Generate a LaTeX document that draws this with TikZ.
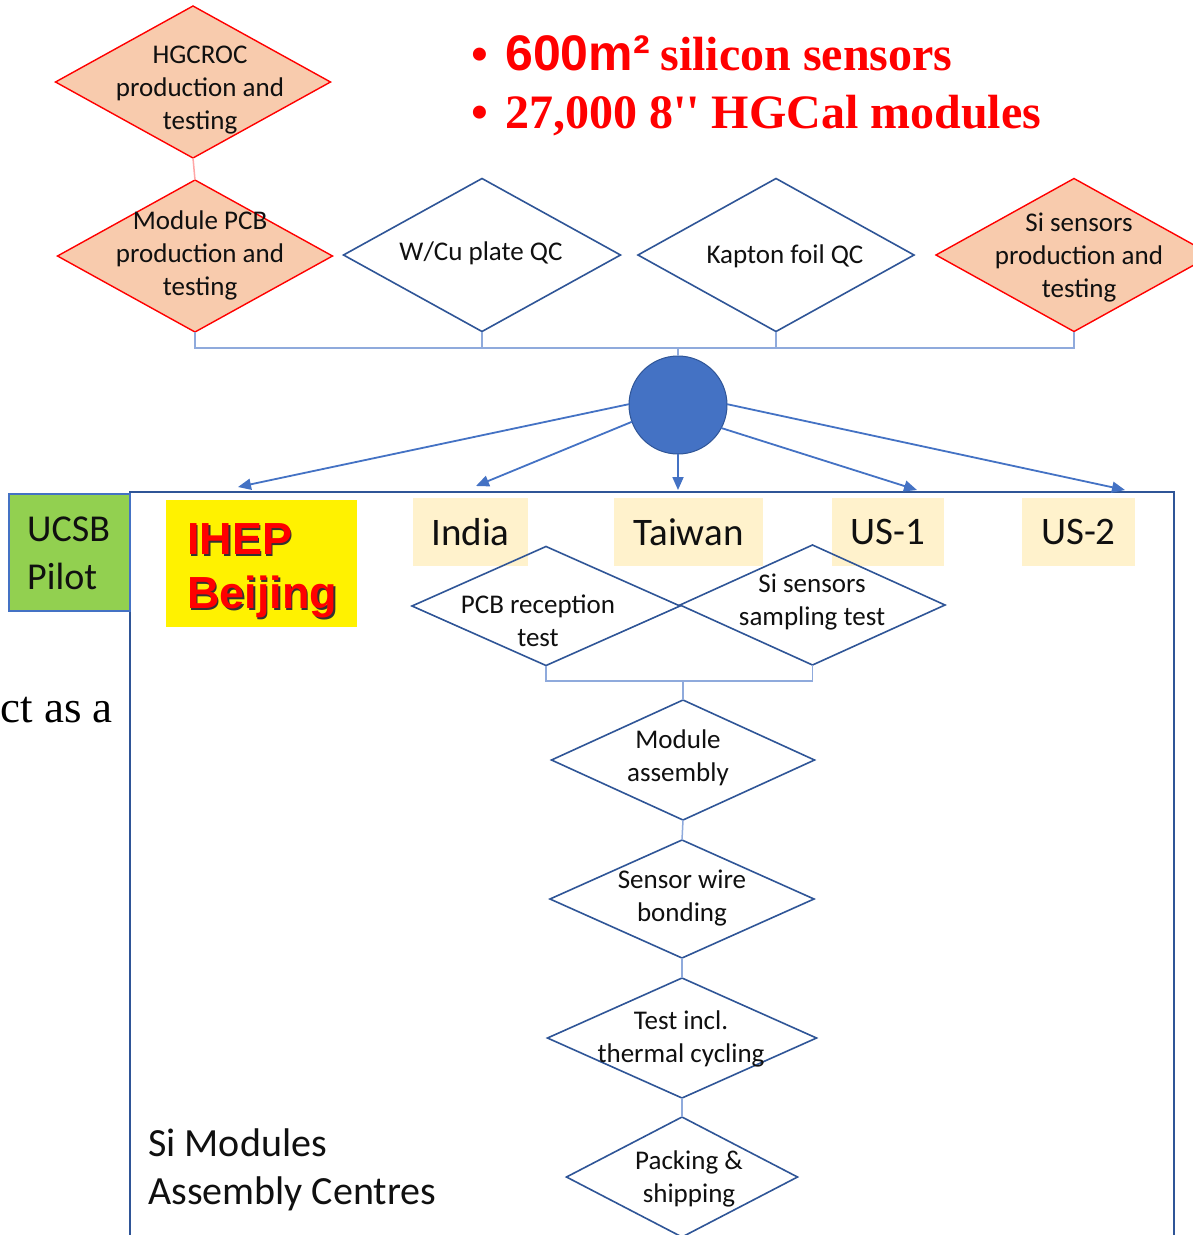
\documentclass[tikz,border=0pt]{standalone}
\usepackage{fontspec}
\setmainfont{Carlito}
\newfontfamily\arialf{Liberation Sans}
\newfontfamily\tnrf{Liberation Serif}
\usetikzlibrary{shapes.geometric,arrows.meta}
\definecolor{peach}{HTML}{F8CBAD}
\definecolor{dblue}{HTML}{2F5597}
\definecolor{mblue}{HTML}{4472C4}
\definecolor{lblue}{HTML}{8FAADC}
\definecolor{cream}{HTML}{FFF2CC}
\definecolor{lgreen}{HTML}{92D050}
\definecolor{txt}{HTML}{101010}
\tikzset{
  dia/.style={diamond, draw=dblue, line width=1.6pt, inner sep=0pt, outer sep=0pt, fill=white},
  rdia/.style={diamond, draw=red, line width=1.4pt, fill=peach, inner sep=0pt, outer sep=0pt},
  dtxt/.style={inner sep=0pt, align=center, text=txt, yshift=-2.5pt, font=\fontsize{27}{33}\selectfont},
  bus/.style={draw=lblue, line width=1.5pt},
  rbus/.style={draw=red!35, line width=1.5pt},
  arr/.style={draw=mblue, line width=1.8pt, -{Triangle[length=13pt,width=11pt]}},
  lab/.style={fill=cream, inner sep=0pt, text=txt, font=\fontsize{39}{47}\selectfont},
}
\begin{document}
\begin{tikzpicture}[x=1pt,y=-1pt]
\useasboundingbox (0,0) rectangle (1193,1235);
\clip (0,0) rectangle (1193,1235);
\fill[white] (0,0) rectangle (1193,1235);

% title
\node[anchor=base west, inner sep=0pt, text=red, font=\tnrf\bfseries\fontsize{48}{50}\selectfont] (b1) at (471,70) {•};
\node[anchor=base west, inner sep=0pt, text=red, font=\bfseries\fontsize{48}{50}\selectfont] (t1) at (505,70) {{\arialf\fontsize{50}{50}\selectfont 600m²} {\tnrf silicon sensors}};
\node[anchor=base west, inner sep=0pt, text=red, font=\tnrf\bfseries\fontsize{48}{50}\selectfont] (b2) at (471,128) {•};
\node[anchor=base west, inner sep=0pt, text=red, font=\tnrf\bfseries\fontsize{48}{50}\selectfont] (t2) at (505,128) {27,000 8'' HGCal modules};

% stray text
\node[anchor=base east, inner sep=0pt, font=\tnrf\fontsize{45}{48}\selectfont] (stray) at (113,722) {ct as a};

% top diamonds
\node[rdia, minimum width=275pt, minimum height=152pt] (hgcroc) at (193,82) {};
\node[rdia, minimum width=275pt, minimum height=152pt] (pcb) at (195,256) {};
\node[dia, minimum width=277pt, minimum height=153pt] (wcu) at (482,255) {};
\node[dia, minimum width=276pt, minimum height=153pt] (kap) at (776,255) {};
\node[rdia, minimum width=276pt, minimum height=153pt] (sis) at (1074,255) {};
\draw[rbus] (hgcroc.south) -- (pcb.north);

\node[dtxt] (thg) at (200,88) {HGCROC\\production and\\testing};
\node[dtxt] (tpcb) at (200,253) {Module PCB\\production and\\testing};
\node[dtxt] (twcu) at (481,251) {W/Cu plate QC};
\node[dtxt] (tkap) at (785,254) {Kapton foil QC};
\node[dtxt] (tsis) at (1079,255) {Si sensors\\production and\\testing};

% bus
\coordinate (busL) at (195,348);
\node[circle, fill=mblue, draw=dblue, line width=1pt, minimum size=98pt, inner sep=0pt, outer sep=0pt] (hub) at (678,405) {};
\draw[bus] (pcb.south) -- (pcb.south |- busL) -- (sis.south |- busL) -- (sis.south);
\draw[bus] (wcu.south) -- (wcu.south |- busL);
\draw[bus] (kap.south) -- (kap.south |- busL);
\draw[bus] (hub.north) -- (hub.north |- busL);

% frame
\draw[draw=dblue, line width=2.5pt] (130,492) rectangle (1174,1260);

% arrows
\coordinate (eI) at (238,487);
\coordinate (eIn) at (476,486);
\coordinate (eT) at (678,490);
\coordinate (eU1) at (917,490);
\coordinate (eU2) at (1125,490);
\draw[arr] (hub.179) -- (eI);
\draw[arr] (hub.200) -- (eIn);
\draw[arr] (hub.south) -- (eT);
\draw[arr] (hub.332) -- (eU1);
\draw[arr] (hub.1) -- (eU2);

% site boxes
\node[fill=lgreen, draw=mblue, line width=1.5pt, minimum width=121pt, minimum height=117pt, inner sep=0pt, outer sep=0pt] (ucsb) at (69.5,552.5) {};
\node[anchor=west, inner sep=0pt, align=left, text=txt, font=\fontsize{38}{48}\selectfont] (tucsb) at (27,553) {UCSB\\Pilot};
\node[fill=yellow, minimum width=191pt, minimum height=127pt, inner sep=0pt] (ihep) at (261.5,563.5) {};
\node[anchor=west, inner sep=0pt, align=left, text=black!80, font=\arialf\bfseries\fontsize{45}{54}\selectfont] (ihepsh) at (188.5,572.5) {IHEP\\Beijing};
\node[anchor=west, inner sep=0pt, align=left, text=red, font=\arialf\bfseries\fontsize{45}{54}\selectfont] (iheptx) at (187,571) {IHEP\\Beijing};
\node[lab, minimum width=115pt, minimum height=68pt] (india) at (470.5,532) {India};
\node[lab, minimum width=149pt, minimum height=68pt] (taiwan) at (688.5,532) {Taiwan};
\node[lab, minimum width=112pt, minimum height=68pt] (us1) at (888,532) {US-1};
\node[lab, minimum width=113pt, minimum height=68pt] (us2) at (1078.5,532) {US-2};

% process flow
\node[dia, fill=none, minimum width=268pt, minimum height=119pt] (pcbr) at (546,606) {};
\node[dia, fill=none, minimum width=265pt, minimum height=120pt] (sisamp) at (812.5,605) {};
\node[dia, minimum width=263pt, minimum height=120pt] (massy) at (683,760) {};
\node[dia, minimum width=264pt, minimum height=118pt] (wire) at (682,899) {};
\node[dia, minimum width=269pt, minimum height=120pt] (test) at (682,1038) {};
\node[dia, minimum width=231pt, minimum height=120pt] (pack) at (682,1177) {};

\coordinate (jn) at (683,681);
\draw[bus] (pcbr.south) -- (pcbr.south |- jn) -- (sisamp.south |- jn) -- (sisamp.south);
\draw[bus] (jn) -- (massy.north);
\draw[bus] (massy.south) -- (wire.north);
\draw[bus] (wire.south) -- (test.north);
\draw[bus] (test.south) -- (pack.north);

\node[dtxt] (tpcbr) at (538,618) {PCB reception\\test};
\node[dtxt] (tsisamp) at (812,600) {Si sensors\\sampling test};
\node[dtxt] (tmassy) at (678,755) {Module\\assembly};
\node[dtxt] (twire) at (682,896) {Sensor wire\\bonding};
\node[dtxt] (ttest) at (681,1036) {Test incl.\\thermal cycling};
\node[dtxt] (tpack) at (689,1176) {Packing \&\\shipping};

\node[anchor=west, inner sep=0pt, align=left, text=txt, font=\fontsize{40}{48}\selectfont] (simod) at (148,1170) {Si Modules\\Assembly Centres};
\end{tikzpicture}
\end{document}
